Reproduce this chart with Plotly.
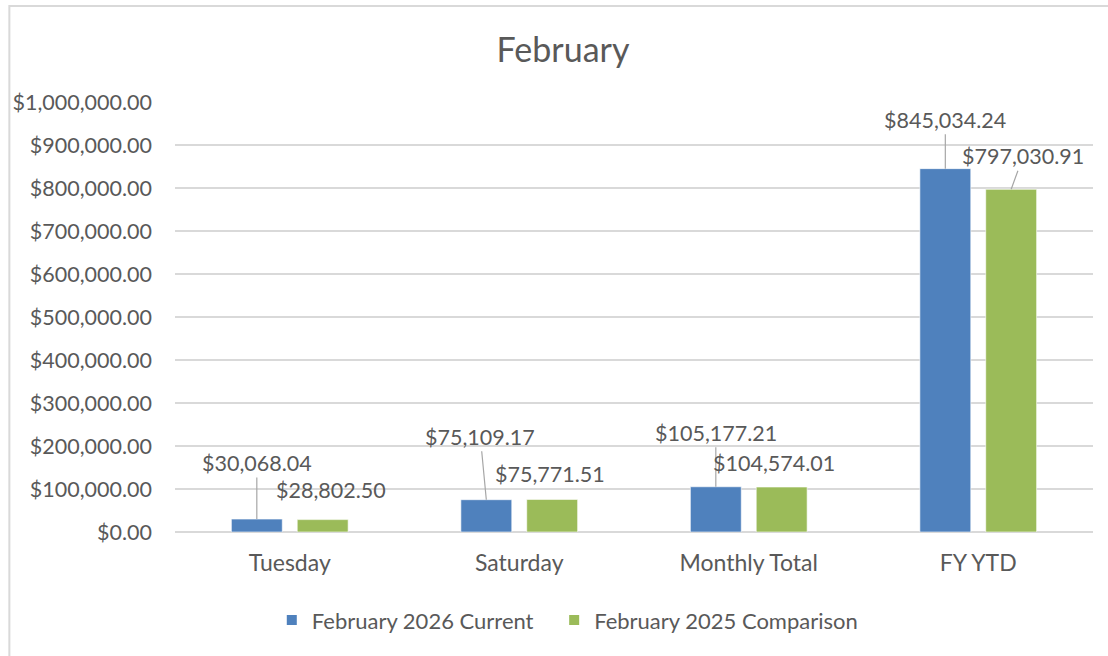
import plotly.graph_objects as go

categories = ["Tuesday", "Saturday", "Monthly Total", "FY YTD"]
current_2026 = [30068.04, 75109.17, 105177.21, 845034.24]
comparison_2025 = [28802.50, 75771.51, 104574.01, 797030.91]
series_names = ["February 2026 Current", "February 2025 Comparison"]
tick_vals = [0, 100000, 200000, 300000, 400000, 500000, 600000, 700000, 800000, 900000, 1000000]

BLUE = "#4F81BD"
GREEN = "#9BBB59"
TEXT = "#595959"
GRID = "#D9D9D9"
FONT = "Lato"

W, H = 1108, 656
ML, MR, MT, MB = 173, 15, 102, 124
PW = W - ML - MR
BARGAP = 0.426
GROUPGAP = 0.227

# label placement styling: (ax, ay, leader line shown)
label_style_cur = [(0, -56, True), (-6, -63, True), (0, -54, True), (0, -49, True)]
label_style_cmp = [(8, -30, False), (-2, -25, False), (-8, -24, False), (12, -33, True)]

fig = go.Figure()
fig.add_trace(go.Bar(x=categories, y=current_2026, name=series_names[0], legend="legend",
                     marker=dict(color=BLUE, line=dict(color="#FFFFFF", width=0.6))))
fig.add_trace(go.Bar(x=categories, y=comparison_2025, name=series_names[1], legend="legend2",
                     marker=dict(color=GREEN, line=dict(color="#FFFFFF", width=0.6))))

off = (1 - BARGAP) / 4.0
annotations = []
for vals, styles, sign in ((current_2026, label_style_cur, -1), (comparison_2025, label_style_cmp, 1)):
    for i, v in enumerate(vals):
        ax, ay, line = styles[i]
        txt = f"${v:,.2f}"
        if line:
            annotations.append(dict(x=i + sign * off, y=v, xref="x", yref="y", text=txt,
                                    showarrow=True, arrowhead=0, arrowwidth=1.2, arrowcolor="#A6A6A6",
                                    ax=ax, ay=ay, standoff=0, startstandoff=0,
                                    font=dict(family=FONT, size=21.5, color=TEXT)))
        else:
            annotations.append(dict(x=i + sign * off, y=v, xref="x", yref="y", text=txt,
                                    showarrow=False, xshift=ax, yshift=-ay,
                                    font=dict(family=FONT, size=21.5, color=TEXT)))

legend_common = dict(orientation="h", xanchor="left", y=-0.205, yanchor="middle",
                     font=dict(family=FONT, size=22, color=TEXT), itemsizing="constant",
                     bgcolor="rgba(0,0,0,0)")

fig.update_layout(
    width=W, height=H,
    margin=dict(l=ML, r=MR, t=MT, b=MB),
    paper_bgcolor="white", plot_bgcolor="white",
    barmode="group", bargap=BARGAP, bargroupgap=GROUPGAP,
    title=dict(text="February", xref="container", x=563 / W, xanchor="center", y=1 - 50 / H,
               yanchor="middle", font=dict(family=FONT, size=34, color=TEXT)),
    font=dict(family=FONT, color=TEXT),
    showlegend=True,
    legend=dict(x=(285 - 15 - ML) / PW, **legend_common),
    legend2=dict(x=(568 - 15 - ML) / PW, **legend_common),
    annotations=annotations,
    shapes=[dict(type="rect", xref="paper", yref="paper",
                 x0=-(ML - 7) / PW, x1=(W - ML + 20) / PW,
                 y0=-(MB + 20) / (H - MT - MB), y1=1 + (MT - 6) / (H - MT - MB),
                 line=dict(color=GRID, width=2), fillcolor="rgba(0,0,0,0)", layer="below")],
)
fig.update_xaxes(showgrid=False, showline=False, ticks="", tickfont=dict(family=FONT, size=23, color=TEXT),
                 ticklabelstandoff=15)
fig.update_yaxes(range=[0, 1000000], tickvals=tick_vals,
                 ticktext=[f"${v:,.2f}" for v in tick_vals],
                 showgrid=True, gridcolor=GRID, gridwidth=1.5, zeroline=True, zerolinecolor=GRID,
                 zerolinewidth=1.5, showline=False, ticks="",
                 tickfont=dict(family=FONT, size=21.5, color=TEXT), ticklabelstandoff=22)

fig.write_html("out.html", config={"displayModeBar": False},
               post_script="document.body.style.margin='0';")
